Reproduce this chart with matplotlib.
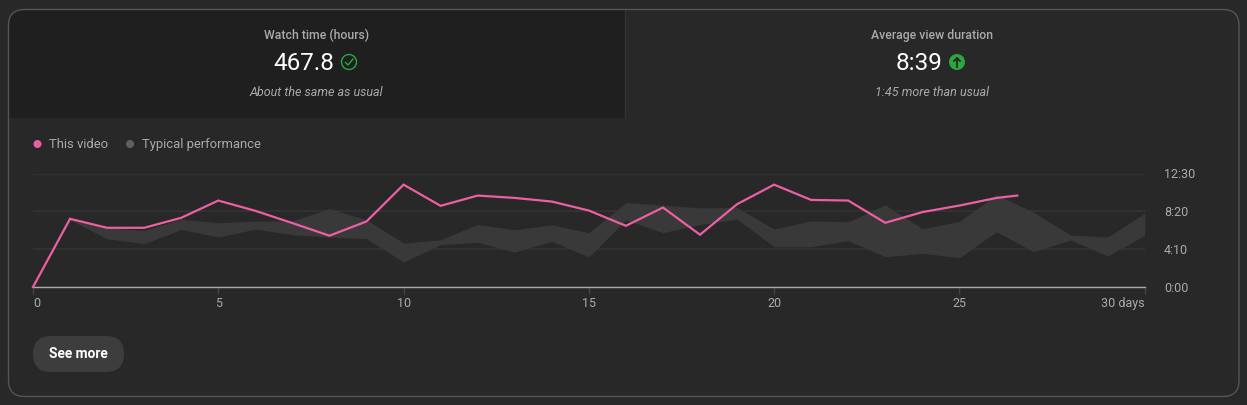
#! /usr/bin/env python3

# Studio style retention card: two stat tiles on top, line + band chart below

import matplotlib
matplotlib.use('Agg')
import matplotlib.pyplot as plt
from matplotlib.patches import Circle, FancyBboxPatch, Rectangle

# the values (minutes per day)
days = list(range(0, 27)) + [26.56]
this_video = [0, 7.51, 6.52, 6.52, 7.62, 9.52, 8.39, 7.04, 5.65, 7.22, 11.27,
              8.94, 10.07, 9.81, 9.41, 8.42, 6.74, 8.75, 5.76, 9.12, 11.27,
              9.59, 9.52, 7.07, 8.25, 8.97, 9.81, 10.07]

band_days = list(range(1, 31))
typical_high = [7.51, 6.52, 6.23, 7.47, 7.07, 7.26, 7.29, 8.64, 7.40, 4.84,
                5.21, 6.89, 6.30, 6.85, 5.98, 9.30, 9.01, 8.72, 8.75, 6.38,
                7.29, 7.18, 9.05, 6.41, 7.22, 10.18, 8.24, 5.72, 5.50, 8.13]
typical_low = [7.40, 5.32, 4.77, 6.34, 5.50, 6.38, 5.76, 5.50, 5.32, 2.76,
               4.66, 4.92, 3.86, 5.03, 3.31, 7.40, 5.98, 6.89, 7.47, 4.44,
               4.44, 5.10, 3.34, 3.71, 3.23, 6.09, 3.89, 5.17, 3.42, 5.68]

x_ticks = [0, 5, 10, 15, 20, 25, 30]
x_labels = ['0', '5', '10', '15', '20', '25', '30 days']
y_ticks = [0, 25 / 6, 25 / 3, 12.5]
y_labels = ['0:00', '4:10', '8:20', '12:30']

BG = '#282828'
DARK = '#1f1f1f'
PINK = '#ec5fa5'
BAND = '#393939'
GRID = '#313131'
TEXT = '#aaaaaa'
GREEN = '#2ba640'

plt.rcParams['font.family'] = ['Roboto', 'DejaVu Sans']

W, H = 1247, 405
fig = plt.figure(figsize=(W / 100, H / 100), dpi=100, facecolor=BG)

# overlay in pixel coordinates for the card furniture
bg = fig.add_axes([0, 0, 1, 1])
bg.set_xlim(0, W)
bg.set_ylim(H, 0)
bg.axis('off')

card = FancyBboxPatch((8.5, 9.5), 1230.5, 387, boxstyle='round,pad=0,rounding_size=16',
                      fc='none', ec='#555555', lw=1, zorder=3)
bg.add_patch(card)
tile = Rectangle((8.5, 9.5), 616, 108.5, fc=DARK, ec='none', zorder=1)
bg.add_patch(tile)
tile.set_clip_path(card)
bg.plot([624.5, 624.5], [9.5, 118], color='#333333', lw=1, zorder=2)

# stat tiles
bg.text(316.5, 35.5, 'Watch time (hours)', color=TEXT, fontsize=8.8, fontweight='medium',
        ha='center', va='center')
bg.text(303.5, 63, '467.8', color='white', fontsize=17.5, ha='center', va='center')
bg.add_patch(Circle((349, 62), 7.5, fc='none', ec=GREEN, lw=1))
bg.plot([345.5, 348, 353], [62.5, 65, 59], color=GREEN, lw=1)
bg.text(316, 92.5, 'About the same as usual', color=TEXT, fontsize=9, style='italic',
        ha='center', va='center')

bg.text(932, 35.5, 'Average view duration', color=TEXT, fontsize=8.8, fontweight='medium',
        ha='center', va='center')
bg.text(919, 63, '8:39', color='white', fontsize=17.5, ha='center', va='center')
bg.add_patch(Circle((957, 62), 8, fc=GREEN, ec='none'))
bg.plot([957, 957], [67, 58], color=DARK, lw=1.2)
bg.plot([954, 957, 960], [61, 58, 61], color=DARK, lw=1.2)
bg.text(932, 92.5, '1:45 more than usual', color=TEXT, fontsize=9, style='italic',
        ha='center', va='center')

# legend
bg.add_patch(Circle((37.5, 144), 4, fc=PINK, ec='none'))
bg.text(49, 144.5, 'This video', color=TEXT, fontsize=9.35, va='center')
bg.add_patch(Circle((130, 144), 4, fc='#606060', ec='none'))
bg.text(142, 144.5, 'Typical performance', color=TEXT, fontsize=9.35, va='center')

# button
bg.add_patch(FancyBboxPatch((33, 336), 91, 36, boxstyle='round,pad=0,rounding_size=18',
                            fc='#3d3d3d', ec='none'))
bg.text(78.5, 354, 'See more', color='white', fontsize=9.9, fontweight='bold',
        ha='center', va='center')

# the chart itself
ax = fig.add_axes([33 / W, 1 - 287 / H, 1111.7 / W, 113.5 / H])
ax.patch.set_alpha(0)
ax.fill_between(band_days, typical_low, typical_high, color=BAND, lw=0, zorder=2)
ax.plot(days, this_video, color=PINK, lw=1.6, zorder=3, clip_on=False,
        solid_joinstyle='miter')

ax.set_xlim(0, 30)
ax.set_ylim(0, 12.5)
ax.set_xticks(x_ticks)
ax.set_xticklabels(x_labels)
ax.set_yticks(y_ticks)
ax.set_yticklabels(y_labels)
ax.yaxis.tick_right()
ax.grid(axis='y', color=GRID, lw=1.6, zorder=1)
ax.set_axisbelow(True)

for s in ['top', 'left', 'right']:
    ax.spines[s].set_visible(False)
ax.spines['bottom'].set_color('#aaaaaa')
ax.spines['bottom'].set_linewidth(1)

ax.tick_params(axis='x', color='#444444', length=5, width=1, pad=2,
               labelcolor=TEXT, labelsize=9)
ax.tick_params(axis='y', length=0, pad=14, labelcolor=TEXT, labelsize=9)

labels = ax.get_xticklabels()
labels[0].set_ha('left')
labels[-1].set_ha('right')

fig.savefig('out.png', dpi=100, facecolor=BG)
